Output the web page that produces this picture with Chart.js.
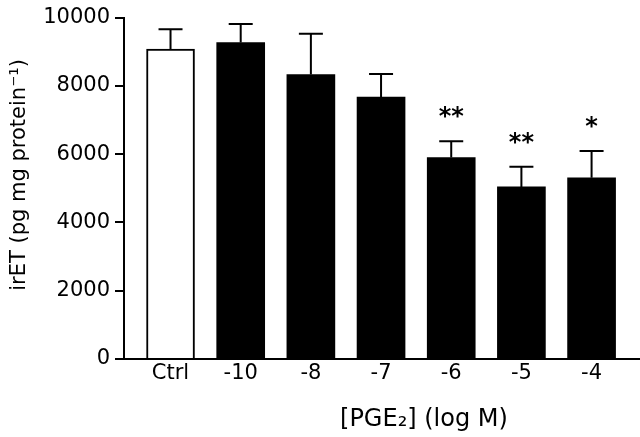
<!DOCTYPE html>
<html>
<head>
<meta charset="utf-8">
<script src="https://cdn.jsdelivr.net/npm/chart.js@4/dist/chart.umd.min.js"></script>
<style>
html,body{margin:0;padding:0;background:#fff;}
#wrap{width:640px;height:437px;}
</style>
</head>
<body>
<div id="wrap"><canvas id="c" width="640" height="437"></canvas></div>
<script>
const categories = ['Ctrl', '-10', '-8', '-7', '-6', '-5', '-4'];
const meanValues = [9080, 9270, 8330, 7670, 5900, 5040, 5310];
const semValues = [580, 540, 1200, 680, 480, 590, 780];
const significance = ['', '', '', '', '**', '**', '*'];
const yTicks = [0, 2000, 4000, 6000, 8000, 10000];

const FONT = 'DejaVu Sans';

const errorBarPlugin = {
  id: 'errorBars',
  afterDatasetsDraw(chart) {
    const ctx = chart.ctx;
    const xs = chart.scales.x, ys = chart.scales.y;
    ctx.save();
    ctx.strokeStyle = '#000';
    ctx.lineWidth = 2;
    ctx.fillStyle = '#000';
    ctx.font = 'bold 24px "' + FONT + '"';
    ctx.textAlign = 'center';
    ctx.textBaseline = 'middle';
    meanValues.forEach((m, i) => {
      const x = xs.getPixelForValue(i);
      const y1 = ys.getPixelForValue(m);
      const y2 = ys.getPixelForValue(m + semValues[i]);
      ctx.beginPath();
      ctx.moveTo(x, y1);
      ctx.lineTo(x, y2);
      ctx.moveTo(x - 12, y2);
      ctx.lineTo(x + 12, y2);
      ctx.stroke();
      if (significance[i]) {
        ctx.fillText(significance[i], x, y2 - 23);
      }
    });
    ctx.restore();
  }
};

new Chart(document.getElementById('c'), {
  type: 'bar',
  data: {
    datasets: [{
      data: categories.map((c, i) => ({x: i, y: meanValues[i]})),
      backgroundColor: categories.map((c, i) => i === 0 ? '#ffffff' : '#000000'),
      borderColor: '#000000',
      borderWidth: categories.map((c, i) => i === 0 ? 2 : 0),
      barThickness: 48
    }]
  },
  options: {
    responsive: false,
    animation: false,
    layout: {padding: {top: 14, right: 0, left: 0, bottom: 0}},
    plugins: {legend: {display: false}, tooltip: {enabled: false}},
    scales: {
      x: {
        type: 'linear',
        offset: false,
        min: -0.663,
        max: 6.69,
        afterBuildTicks(s) { s.ticks = categories.map((c, i) => ({value: i})); },
        afterFit(s) { s.height = 78; },
        grid: {display: false, drawTicks: false, offset: false},
        border: {display: true, color: '#000', width: 2},
        ticks: {
          color: '#000',
          padding: 2,
          autoSkip: false,
          maxRotation: 0,
          font: {family: FONT, size: 21},
          callback: (v) => categories[v]
        },
        title: {
          display: true,
          text: '           [PGE\u2082] (log M)',
          color: '#000',
          font: {family: FONT, size: 24},
          padding: {top: 0, bottom: 3}
        }
      },
      y: {
        min: 0,
        max: 10000,
        afterBuildTicks(s) { s.ticks = yTicks.map(v => ({value: v})); },
        afterFit(s) { s.width = 124; },
        grid: {drawOnChartArea: false, drawTicks: true, tickLength: 9, color: '#000', lineWidth: 2},
        border: {display: true, color: '#000', width: 2},
        ticks: {
          color: '#000',
          padding: 5,
          font: {family: FONT, size: 21},
          callback: (v) => String(v)
        },
        title: {
          display: true,
          text: '    irET (pg mg protein\u207B\u00B9)',
          color: '#000',
          font: {family: FONT, size: 21},
          padding: {top: 7, bottom: 0}
        }
      }
    }
  },
  plugins: [errorBarPlugin]
});
</script>
</body>
</html>
